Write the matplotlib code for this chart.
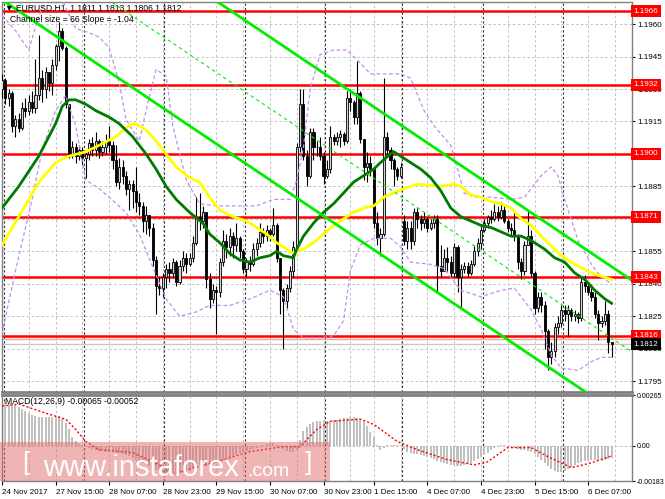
import numpy as np
import matplotlib.pyplot as plt
from matplotlib.patches import Rectangle

plt.rcParams['font.family'] = ['Liberation Sans', 'DejaVu Sans']

# EURUSD H1, 24 Nov - 6 Dec 2017, one entry per bar
close = [1.1934, 1.1926, 1.1928, 1.1913, 1.1916, 1.1912, 1.1921, 1.1920, 1.1924, 1.1921,
         1.1927, 1.1935, 1.1930, 1.1938, 1.1933, 1.1941, 1.1950, 1.1957, 1.1949, 1.1923,
         1.1900, 1.1903, 1.1899, 1.1902, 1.1898, 1.1900, 1.1905, 1.1902, 1.1906, 1.1901,
         1.1903, 1.1906, 1.1904, 1.1897, 1.1887, 1.1894, 1.1890, 1.1884, 1.1886, 1.1883,
         1.1878, 1.1876, 1.1869, 1.1872, 1.1866, 1.1851, 1.1839, 1.1838, 1.1843, 1.1847,
         1.1845, 1.1850, 1.1841, 1.1848, 1.1852, 1.1849, 1.1852, 1.1859, 1.1871, 1.1869,
         1.1873, 1.1842, 1.1833, 1.1837, 1.1836, 1.1850, 1.1860, 1.1857, 1.1862, 1.1858,
         1.1861, 1.1855, 1.1847, 1.1850, 1.1849, 1.1856, 1.1859, 1.1864, 1.1862, 1.1865,
         1.1863, 1.1867, 1.1852, 1.1837, 1.1832, 1.1838, 1.1846, 1.1857, 1.1903, 1.1923,
         1.1899, 1.1890, 1.1910, 1.1903, 1.1903, 1.1899, 1.1890, 1.1893, 1.1908, 1.1906,
         1.1908, 1.1909, 1.1906, 1.1926, 1.1924, 1.1917, 1.1928, 1.1907, 1.1894, 1.1896,
         1.1893, 1.1868, 1.1861, 1.1863, 1.1908, 1.1902, 1.1897, 1.1893, 1.1890, 1.1894,
         1.1860, 1.1866, 1.1860, 1.1873, 1.1870, 1.1868, 1.1870, 1.1866, 1.1868, 1.1870,
         1.1848, 1.1846, 1.1852, 1.1850, 1.1845, 1.1857, 1.1843, 1.1847, 1.1848, 1.1845,
         1.1849, 1.1855, 1.1859, 1.1865, 1.1868, 1.1871, 1.1870, 1.1873, 1.1871, 1.1874,
         1.1869, 1.1866, 1.1865, 1.1862, 1.1850, 1.1846, 1.1858, 1.1862, 1.1845, 1.1829,
         1.1834, 1.1830, 1.1818, 1.1806, 1.1809, 1.1820, 1.1822, 1.1828, 1.1826, 1.1828,
         1.1825, 1.1826, 1.1824, 1.1841, 1.1839, 1.1836, 1.1834, 1.1826, 1.1822, 1.1823,
         1.1826, 1.1813, 1.1812]
high = [1.1937, 1.1935, 1.1930, 1.1929, 1.1918, 1.1919, 1.1924, 1.1926, 1.1927, 1.1929,
        1.1944, 1.1955, 1.1939, 1.1940, 1.1937, 1.1944, 1.1951, 1.1961, 1.1958, 1.1950,
        1.1923, 1.1906, 1.1905, 1.1904, 1.1903, 1.1902, 1.1907, 1.1908, 1.1910, 1.1907,
        1.1906, 1.1909, 1.1913, 1.1906, 1.1904, 1.1898, 1.1897, 1.1892, 1.1888, 1.1888,
        1.1894, 1.1882, 1.1878, 1.1876, 1.1872, 1.1868, 1.1853, 1.1843, 1.1845, 1.1849,
        1.1850, 1.1852, 1.1851, 1.1851, 1.1855, 1.1854, 1.1854, 1.1862, 1.1880, 1.1882,
        1.1876, 1.1872, 1.1845, 1.1840, 1.1839, 1.1852, 1.1865, 1.1863, 1.1866, 1.1864,
        1.1868, 1.1862, 1.1856, 1.1852, 1.1853, 1.1859, 1.1861, 1.1868, 1.1866, 1.1867,
        1.1866, 1.1875, 1.1868, 1.1852, 1.1838, 1.1840, 1.1848, 1.1860, 1.1905, 1.1930,
        1.1930, 1.1902, 1.1912, 1.1912, 1.1906, 1.1908, 1.1901, 1.1897, 1.1913, 1.1909,
        1.1910, 1.1911, 1.1910, 1.1929, 1.1930, 1.1925, 1.1943, 1.1929, 1.1907, 1.1901,
        1.1899, 1.1893, 1.1873, 1.1866, 1.1935, 1.1910, 1.1903, 1.1898, 1.1894, 1.1896,
        1.1872, 1.1869, 1.1869, 1.1875, 1.1875, 1.1872, 1.1873, 1.1871, 1.1870, 1.1872,
        1.1872, 1.1858, 1.1856, 1.1857, 1.1853, 1.1859, 1.1858, 1.1849, 1.1850, 1.1850,
        1.1851, 1.1858, 1.1861, 1.1867, 1.1870, 1.1872, 1.1874, 1.1877, 1.1876, 1.1878,
        1.1876, 1.1870, 1.1868, 1.1873, 1.1863, 1.1852, 1.1860, 1.1874, 1.1865, 1.1846,
        1.1836, 1.1836, 1.1832, 1.1819, 1.1813, 1.1822, 1.1825, 1.1830, 1.1830, 1.1830,
        1.1829, 1.1828, 1.1827, 1.1843, 1.1844, 1.1841, 1.1838, 1.1836, 1.1828, 1.1825,
        1.1832, 1.1828, 1.1813]
low = [1.1926, 1.1923, 1.1922, 1.1910, 1.1908, 1.1910, 1.1911, 1.1917, 1.1918, 1.1919,
       1.1919, 1.1925, 1.1924, 1.1926, 1.1929, 1.1927, 1.1939, 1.1943, 1.1948, 1.1921,
       1.1898, 1.1898, 1.1896, 1.1897, 1.1895, 1.1889, 1.1897, 1.1899, 1.1899, 1.1898,
       1.1899, 1.1900, 1.1901, 1.1893, 1.1885, 1.1884, 1.1886, 1.1881, 1.1874, 1.1875,
       1.1873, 1.1872, 1.1864, 1.1863, 1.1862, 1.1848, 1.1826, 1.1835, 1.1834, 1.1838,
       1.1841, 1.1843, 1.1839, 1.1840, 1.1846, 1.1845, 1.1848, 1.1850, 1.1858, 1.1865,
       1.1866, 1.1838, 1.1829, 1.1831, 1.1817, 1.1834, 1.1848, 1.1852, 1.1853, 1.1852,
       1.1855, 1.1852, 1.1845, 1.1843, 1.1846, 1.1848, 1.1853, 1.1857, 1.1859, 1.1860,
       1.1860, 1.1862, 1.1850, 1.1826, 1.1810, 1.1829, 1.1836, 1.1843, 1.1856, 1.1901,
       1.1897, 1.1885, 1.1889, 1.1897, 1.1899, 1.1897, 1.1886, 1.1889, 1.1891, 1.1904,
       1.1904, 1.1903, 1.1904, 1.1905, 1.1920, 1.1914, 1.1914, 1.1905, 1.1888, 1.1887,
       1.1890, 1.1866, 1.1858, 1.1853, 1.1862, 1.1899, 1.1893, 1.1885, 1.1888, 1.1889,
       1.1858, 1.1856, 1.1856, 1.1858, 1.1866, 1.1865, 1.1866, 1.1864, 1.1865, 1.1866,
       1.1836, 1.1843, 1.1846, 1.1846, 1.1843, 1.1843, 1.1836, 1.1829, 1.1845, 1.1843,
       1.1844, 1.1848, 1.1853, 1.1856, 1.1864, 1.1866, 1.1868, 1.1869, 1.1869, 1.1870,
       1.1868, 1.1864, 1.1862, 1.1860, 1.1847, 1.1842, 1.1844, 1.1859, 1.1843, 1.1826,
       1.1827, 1.1827, 1.1810, 1.1800, 1.1803, 1.1806, 1.1817, 1.1820, 1.1823, 1.1816,
       1.1823, 1.1823, 1.1822, 1.1823, 1.1836, 1.1835, 1.1832, 1.1824, 1.1814, 1.1820,
       1.1821, 1.1808, 1.1806]
first_open = 1.1930
gap_opens = {120: 1.1869}   # Monday 4 Dec opened with a gap

# moving averages (read at sample bars)
ma_green_bars = [0, 5, 11, 16, 18, 20, 22, 25, 28, 32, 35, 39, 43, 46, 49, 52, 56, 60, 62, 65,
                 68, 71, 74, 77, 80, 82, 84, 87, 88, 90, 93, 96, 99, 102, 105, 108, 111, 113,
                 116, 117, 119, 122, 125, 128, 131, 134, 137, 140, 143, 146, 149, 152, 155,
                 158, 161, 162, 165, 168, 171, 174, 177, 180, 182]
ma_green = [1.1875, 1.1885, 1.1899, 1.1914, 1.1922, 1.1925, 1.1925, 1.1923, 1.1920, 1.1917,
            1.1914, 1.1908, 1.1900, 1.1893, 1.1885, 1.1879, 1.1873, 1.1868, 1.1863, 1.1859,
            1.1854, 1.1851, 1.1850, 1.1852, 1.1853, 1.1855, 1.1853, 1.1852, 1.1856, 1.1862,
            1.1868, 1.1873, 1.1877, 1.1882, 1.1887, 1.1890, 1.1893, 1.1896, 1.1900, 1.1901,
            1.1899, 1.1896, 1.1893, 1.1889, 1.1883, 1.1875, 1.1871, 1.1869, 1.1867, 1.1866,
            1.1864, 1.1862, 1.1862, 1.1860, 1.1857, 1.1856, 1.1852, 1.1850, 1.1845, 1.1842,
            1.1837, 1.1833, 1.1831]
ma_yellow_bars = [0, 5, 11, 16, 20, 25, 29, 34, 37, 39, 41, 43, 46, 49, 52, 56, 59, 62, 65,
                  69, 73, 76, 79, 82, 85, 87, 88, 90, 93, 96, 99, 102, 105, 108, 111, 114,
                  117, 120, 124, 131, 135, 137, 140, 143, 146, 149, 152, 155, 158, 161, 167,
                  171, 176, 182]
ma_yellow = [1.1858, 1.1871, 1.1887, 1.1896, 1.1899, 1.1901, 1.1904, 1.1908, 1.1912, 1.1914,
             1.1913, 1.1911, 1.1906, 1.1900, 1.1894, 1.1889, 1.1887, 1.1880, 1.1874, 1.1871,
             1.1869, 1.1866, 1.1863, 1.1859, 1.1856, 1.1854, 1.1855, 1.1856, 1.1859, 1.1863,
             1.1867, 1.1870, 1.1873, 1.1875, 1.1876, 1.1880, 1.1882, 1.1884, 1.1886, 1.1885,
             1.1886, 1.1885, 1.1881, 1.1880, 1.1878, 1.1877, 1.1875, 1.1870, 1.1867, 1.1862,
             1.1853, 1.1849, 1.1845, 1.1842]

# Bollinger envelope (dashed)
bb_up_bars = [0, 4, 8, 11, 14, 18, 22, 26, 29, 32, 35, 37, 41, 43, 46, 49, 51, 55, 59, 64,
              70, 76, 81, 86, 88, 90, 92, 95, 99, 103, 107, 110, 114, 119, 122, 126, 129, 134,
              136, 138, 141, 146, 152, 156, 161, 164, 166, 168, 172, 176, 179, 182]
bb_up = [1.1964, 1.1957, 1.1948, 1.1964, 1.1973, 1.1971, 1.1958, 1.1956, 1.1954, 1.1949,
         1.1933, 1.1916, 1.1906, 1.1920, 1.1939, 1.1936, 1.1913, 1.1888, 1.1877, 1.1876,
         1.1876, 1.1876, 1.1879, 1.1879, 1.1888, 1.1903, 1.1930, 1.1946, 1.1948, 1.1948,
         1.1942, 1.1937, 1.1937, 1.1937, 1.1935, 1.1920, 1.1913, 1.1904, 1.1893, 1.1882,
         1.1880, 1.1880, 1.1879, 1.1880, 1.1890, 1.1894, 1.1890, 1.1879, 1.1860, 1.1849,
         1.1843, 1.1840]
bb_lo_bars = [0, 4, 9, 12, 16, 19, 22, 25, 29, 32, 37, 41, 46, 49, 53, 58, 62, 68, 74, 80,
              84, 87, 90, 95, 99, 102, 104, 107, 111, 116, 119, 122, 128, 132, 137, 143, 149,
              153, 158, 161, 164, 167, 172, 176, 179, 182]
bb_lo = [1.1817, 1.1846, 1.1879, 1.1902, 1.1920, 1.1927, 1.1913, 1.1888, 1.1884, 1.1880,
         1.1873, 1.1863, 1.1844, 1.1833, 1.1825, 1.1827, 1.1830, 1.1830, 1.1833, 1.1837,
         1.1834, 1.1819, 1.1815, 1.1815, 1.1816, 1.1823, 1.1846, 1.1858, 1.1861, 1.1861,
         1.1857, 1.1850, 1.1849, 1.1847, 1.1837, 1.1834, 1.1837, 1.1838, 1.1828, 1.1819,
         1.1807, 1.1801, 1.1800, 1.1804, 1.1806, 1.1806]

# regression channel: "Channel size = 66 Slope = -1.04"
chan_bar0 = 80
chan_low0 = 1.1888
chan_slope = -0.000104
chan_size = 0.0066

levels = [1.1966, 1.1932, 1.1900, 1.1871, 1.1843, 1.1816]
bid = 1.1812
ask_line = 1.18145

# MACD(12,26,9), histogram per bar in 1e-5
macd_hist = [228, 228, 223, 218, 212, 202, 191, 181, 170, 160,
             154, 149, 149, 149, 149, 149, 154, 154, 139, 118,
             86, 44, 23, 12, 2, -4, -9, -14, -20, -25,
             -25, -30, -30, -30, -35, -35, -41, -46, -51, -62,
             -72, -77, -88, -93, -104, -114, -125, -130, -135, -141,
             -146, -151, -146, -141, -135, -130, -125, -114, -104, -99,
             -99, -104, -99, -93, -88, -83, -72, -62, -56, -51,
             -46, -35, -30, -25, -20, -14, -9, -4, 7, 12,
             17, 17, 7, -4, -14, -25, -30, -30, -20, 33,
             75, 96, 112, 123, 128, 128, 133, 128, 128, 133,
             133, 139, 144, 144, 149, 149, 144, 133, 123, 102,
             70, 44, 7, -20, -9, 2, 7, 7, 7, 2,
             -14, -30, -35, -41, -41, -46, -51, -56, -62, -67,
             -77, -83, -88, -93, -99, -99, -104, -104, -99, -93,
             -88, -77, -67, -56, -46, -35, -20, -9, -4, 2,
             2, -4, -4, -9, -14, -20, -20, -25, -30, -41,
             -56, -72, -88, -104, -120, -130, -135, -135, -130, -120,
             -109, -99, -88, -83, -77, -72, -72, -72, -77, -77,
             -72, -68, -65]
macd_sig_bars = [0, 5, 14, 19, 22, 25, 29, 39, 47, 51, 55, 64, 74, 84, 89, 94, 98, 107,
                 111, 118, 124, 133, 141, 145, 151, 158, 163, 170, 176, 182]
macd_sig = [207, 218, 165, 139, 86, 23, -20, -35, -99, -151, -125, -83, -30, -4, -4, 86,
            128, 139, 112, 23, -20, -72, -99, -83, -9, -9, -56, -114, -88, -52]

label_bars = [0, 16, 32, 48, 64, 80, 96, 111, 127, 143, 159, 175]
label_text = ['24 Nov 2017', '27 Nov 15:00', '28 Nov 07:00', '28 Nov 23:00', '29 Nov 15:00',
              '30 Nov 07:00', '30 Nov 23:00', '1 Dec 15:00', '4 Dec 07:00', '4 Dec 23:00',
              '5 Dec 15:00', '6 Dec 07:00']
day_start_bars = [1, 25, 49, 73, 97, 120, 144, 168]

# ------------------------------------------------------------------
W, H = 665, 499
FS = 5.8
fig = plt.figure(figsize=(W / 100, H / 100), dpi=100)
fig.patch.set_facecolor('white')


def px_box(x0, y0, x1, y1):
    return [x0 / W, 1 - y1 / H, (x1 - x0) / W, (y1 - y0) / H]


ax = fig.add_axes(px_box(1.5, 2, 632, 392))
ax2 = fig.add_axes(px_box(1.5, 395, 632, 481), sharex=ax)

n = len(close)
idx = np.arange(n)
c = np.array(close)
o = np.r_[first_open, c[:-1]]
for k, v in gap_opens.items():
    o[k] = v
hi = np.maximum(np.array(high), np.maximum(o, c))
lo = np.minimum(np.array(low), np.minimum(o, c))

xmin, xmax = -0.15, 188.1
ax.set_xlim(xmin, xmax)
ax.set_ylim(1.17900, 1.19702)

grid_kw = dict(color='#c0c0c0', lw=0.7, ls=(0, (2.5, 2.5)), zorder=0.5)
sep_kw = dict(color='#303030', lw=0.8, ls=(0, (2, 2)), zorder=0.6)
price_ticks = np.round(1.1795 + 0.0015 * np.arange(12), 4)
for p in price_ticks:
    ax.axhline(p, **grid_kw)
for b in label_bars:
    for a in (ax, ax2):
        a.axvline(b, **grid_kw)
        a.axvline(b + 8, **grid_kw)
for b in day_start_bars:
    for a in (ax, ax2):
        a.axvline(b - 0.5, **sep_kw)

# levels
for lv in levels:
    ax.axhline(lv, color='#ff0000', lw=1.8, zorder=2)
ax.axhline(ask_line, color='#ffa090', lw=1.0, zorder=2)
ax.axhline(bid, color='#c8c8c8', lw=1.0, zorder=2)

# candles
up = c >= o
ax.vlines(idx, lo, hi, color='black', lw=0.8, zorder=3)
body = np.where(np.abs(c - o) < 0.00002, 0.00002, c - o)
ax.bar(idx[up], body[up], bottom=o[up], width=0.62, color='#d4d4d4',
       edgecolor='black', lw=0.6, zorder=3.1)
ax.bar(idx[~up], body[~up], bottom=o[~up], width=0.62, color='black',
       edgecolor='black', lw=0.6, zorder=3.1)

# indicators
ax.plot(bb_up_bars, bb_up, color='#c68cf0', lw=0.9, ls=(0, (3, 2)), zorder=4)
ax.plot(bb_lo_bars, bb_lo, color='#c68cf0', lw=0.9, ls=(0, (3, 2)), zorder=4)
ax.plot(ma_yellow_bars, ma_yellow, color='#ffff00', lw=2.0, zorder=4.2)
ax.plot(ma_green_bars, ma_green, color='#007a00', lw=2.0, zorder=4.3)

# channel lines
xs = np.array([xmin, xmax])
chan_lo = chan_low0 + chan_slope * (xs - chan_bar0)
ax.plot(xs, chan_lo, color='#00ee00', lw=2.0, zorder=4.5)
ax.plot(xs, chan_lo + chan_size, color='#00ee00', lw=2.0, zorder=4.5)
ax.plot(xs, chan_lo + chan_size / 2, color='#00ee00', lw=0.8, ls=(0, (3, 3)), zorder=4.5)

# price axis on the right
for a in (ax, ax2):
    a.yaxis.tick_right()
    a.tick_params(axis='y', direction='out', length=2.5, width=0.8, labelsize=FS, pad=1.2,
                  colors='black')
    for s in a.spines.values():
        s.set_color('#808080')
        s.set_linewidth(1)
ax.spines['bottom'].set_linewidth(2)
ax2.spines['top'].set_linewidth(2)
ax.set_yticks(price_ticks)
# 1.1900 and 1.1870 sit fully under the level tags, as in the terminal
hidden = [p for p in price_ticks if any(abs(p - lv) < 0.00025 for lv in levels[2:4])]
ax.set_yticklabels(['' if p in hidden else '%.4f' % p for p in price_ticks])
ax.tick_params(axis='x', bottom=False, labelbottom=False)

tr = ax.get_yaxis_transform()
for lv in levels:
    ax.text(1.003, lv, '%.4f' % lv, transform=tr, va='center', ha='left', fontsize=FS,
            color='white', zorder=10, clip_on=False,
            bbox=dict(boxstyle='square,pad=0.3', fc='#ff0000', ec='none'))
ax.text(1.003, bid, '%.4f' % bid, transform=tr, va='center', ha='left', fontsize=FS,
        color='white', zorder=10, clip_on=False,
        bbox=dict(boxstyle='square,pad=0.3', fc='black', ec='none'))

ax.text(0.006, 0.985, '\u25bc EURUSD,H1  1.1811 1.1813 1.1806 1.1812', transform=ax.transAxes,
        fontsize=FS + 0.4, va='center', ha='left', zorder=11)
ax.text(0.013, 0.954, 'Channel size = 66 Slope = -1.04', transform=ax.transAxes,
        fontsize=FS + 0.4, va='center', ha='left', zorder=11)

# MACD panel
hist = np.array(macd_hist) * 1e-5
ax2.bar(idx, hist, width=0.6, color='#c0c0c0', zorder=2)
ax2.plot(macd_sig_bars, np.array(macd_sig) * 1e-5, color='#ff0000', lw=1.0,
         ls=(0, (1.5, 1.5)), zorder=3)
ax2.axhline(0, **grid_kw)
ax2.set_ylim(-0.00183, 0.00265)
ax2.set_yticks([0.00265, 0.0, -0.00183])
ax2.set_yticklabels(['0.00265', '0.00', '-0.00183'], fontsize=5.0)
ax2.text(0.006, 0.92, 'MACD(12,26,9) -0.00065 -0.00052', transform=ax2.transAxes,
         fontsize=FS + 0.4, va='center', ha='left', zorder=11)

ax2.set_xticks(label_bars)
ax2.set_xticklabels(label_text, ha='left', fontsize=FS)
ax2.tick_params(axis='x', direction='out', length=3, width=0.8, pad=3)

# watermark
wm_font = 'Liberation Sans'
fig.patches.append(Rectangle((0, 1 - 481 / H), 330 / W, 39 / H, transform=fig.transFigure,
                             fc='#e06a6a', ec='none', alpha=0.5, zorder=20))
fig.text(22 / W, 1 - 463 / H, '[', color='white', fontsize=19, va='center', ha='left',
         zorder=21, family=wm_font)
fig.text(43 / W, 1 - 476 / H, 'www.instaforex', color='white', fontsize=21, va='baseline',
         ha='left', zorder=21, family=wm_font)
fig.text(247 / W, 1 - 476 / H, '.com', color='white', fontsize=14, va='baseline', ha='left',
         zorder=21, family=wm_font)
fig.text(305 / W, 1 - 463 / H, ']', color='white', fontsize=19, va='center', ha='left',
         zorder=21, family=wm_font)

fig.savefig('out.png', dpi=100)
